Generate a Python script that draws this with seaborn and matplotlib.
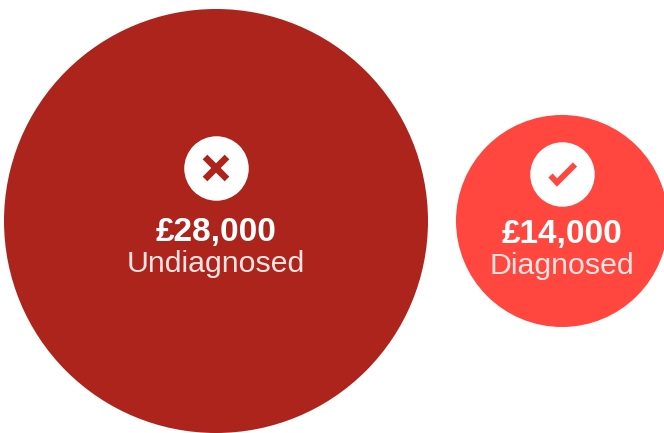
import matplotlib
matplotlib.use('Agg')
import matplotlib.pyplot as plt
import seaborn as sns
import pandas as pd

# values shown on the chart
labels = ['Undiagnosed', 'Diagnosed']
costs = [28000, 14000]
colors = ['#AD241C', '#FF473F']

sns.set_theme(style='white')
plt.rcParams['font.family'] = ['Liberation Sans', 'DejaVu Sans']

W, H = 664, 433
fig, ax = plt.subplots(figsize=(W/100, H/100), dpi=100)
fig.subplots_adjust(0, 0, 1, 1)
ax.set_xlim(0, W)
ax.set_ylim(H, 0)
ax.axis('off')

# radius goes with the cost, biggest circle is 212px
px_per_pound = 212/max(costs)
radius = [c*px_per_pound for c in costs]
cx = [4+radius[0], 456+radius[1]]
df = pd.DataFrame({'label': labels, 'cost': costs, 'x': cx, 'y': 221})
sizes = {c: (2*r*0.72)**2 for c, r in zip(costs, radius)}
sns.scatterplot(data=df, x='x', y='y', hue='label', palette=colors, size='cost', sizes=sizes,
                linewidth=0, legend=False, ax=ax, clip_on=False, alpha=1)

# white badges
icon_y = [168, 174]
badge = pd.DataFrame({'x': cx, 'y': icon_y})
sns.scatterplot(data=badge, x='x', y='y', color='white', s=(64.5*0.72)**2, linewidth=0, ax=ax, legend=False)

# cross
x0, y0 = cx[0], icon_y[0]
ax.plot([x0-11, x0+11], [y0-11, y0+11], color=colors[0], lw=4.8, solid_capstyle='butt')
ax.plot([x0-11, x0+11], [y0+11, y0-11], color=colors[0], lw=4.8, solid_capstyle='butt')
# tick
x1, y1 = cx[1], icon_y[1]
ax.plot([x1-11.5, x1-5, x1+13], [y1+1.5, y1+8.5, y1-9.5], color=colors[1], lw=4.2,
        solid_capstyle='butt', solid_joinstyle='miter')

text_y = [232, 234]
for x, ty, lab, c in zip(cx, text_y, labels, costs):
    ax.text(x, ty, '£{:,}'.format(c), color='white', fontsize=24, fontweight='bold',
            ha='center', va='center')
    ax.text(x, ty+32.5, lab, color='#FBE4E2', fontsize=21.8, ha='center', va='center')

fig.savefig('out.png', dpi=100)
